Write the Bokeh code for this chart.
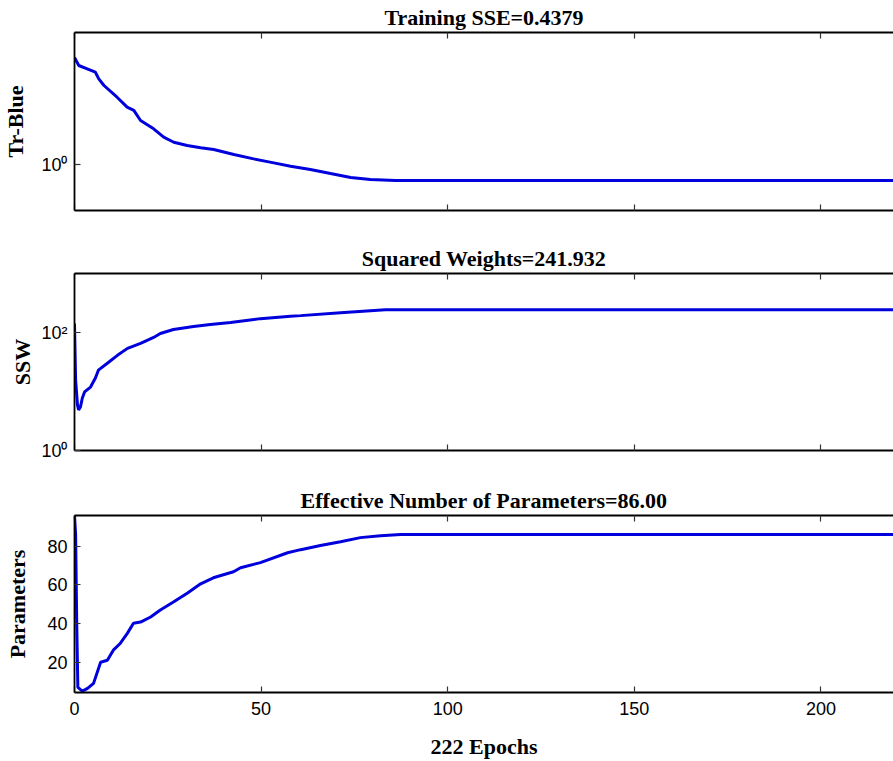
from bokeh.plotting import figure
from bokeh.layouts import column
from bokeh.models import Range1d, LinearAxis, FixedTicker
from bokeh.embed import file_html
from bokeh.resources import INLINE

# ---------------- data ----------------
tr_epochs = [0, 1.15, 3.4, 5.6, 6.5, 7.9, 11.4, 14.1, 15.9, 17.7, 21.2, 23.9, 26.6, 30.2,
             33.8, 37.3, 42.7, 48.0, 53.4, 57.9, 63.2, 68.6, 74.0, 79.3, 86.0, 222]
tr_values = [250.6, 166, 140, 117.4, 83.5, 59.1, 32.3, 19.3, 16.3, 9.70, 6.31, 4.10, 3.16, 2.67,
             2.37, 2.17, 1.68, 1.34, 1.09, 0.916, 0.773, 0.628, 0.512, 0.461, 0.4379, 0.4379]

ssw_epochs = [0, 0.3, 0.8, 1.1, 1.6, 2.1, 2.7, 4.3, 5.6, 6.4, 8.8, 11.5, 14.2, 17.7, 21.2,
              23.0, 26.5, 31.9, 36.4, 41.8, 49.8, 57.9, 60.6, 71.3, 79.3, 83.3, 222]
ssw_values = [141.6, 15.6, 5.93, 4.89, 5.48, 7.78, 9.82, 11.9, 16.9, 23.0, 30.1, 41.0, 53.8, 65.3, 82.4,
              96.2, 112.3, 126.1, 136.3, 147.2, 171.8, 189.2, 193.2, 216.8, 234.3, 241.932, 241.932]

par_epochs = [0, 0.3, 0.6, 0.9, 2.1, 3.5, 5.1, 7.0, 8.8, 10.4, 12.3, 14.2, 15.8, 17.7, 20.4,
              23.0, 26.5, 30.3, 33.8, 37.2, 42.6, 44.5, 49.8, 57.1, 60.6, 65.9, 71.3, 76.6,
              82.0, 87.4, 222]
par_values = [95.8, 86.0, 40.0, 7.2, 5.3, 6.7, 9.3, 20.2, 21.2, 26.4, 30.0, 35.2, 40.3, 40.9, 43.5,
              47.1, 51.2, 55.9, 60.6, 63.7, 66.8, 68.9, 71.5, 76.6, 78.2, 80.3, 82.3, 84.4,
              85.4, 86.0, 86.0]

x_ticks = [0, 50, 100, 150, 200]
tr_ticks = [1]
ssw_ticks = [1, 100]
par_ticks = [20, 40, 60, 80]

titles = ["Training SSE=0.4379", "Squared Weights=241.932", "Effective Number of Parameters=86.00"]
ylabels = ["Tr-Blue", "SSW", "Parameters"]
xlabel = "222 Epochs"

LINE = "#0000dd"
SERIF = "Liberation Serif"
SANS = "Liberation Sans"


def style_axis(ax, show_labels=True):
    ax.axis_line_color = "black"
    ax.axis_line_width = 1.8
    ax.major_tick_in = 6
    ax.major_tick_out = 0
    ax.major_tick_line_color = "#333333"
    ax.major_tick_line_width = 1.2
    ax.minor_tick_line_color = None
    ax.major_label_text_font = SANS
    ax.major_label_text_color = "black"
    if show_labels:
        ax.major_label_text_font_size = "18px"
        ax.major_label_standoff = 7
    else:
        ax.major_label_overrides = {t: "" for t in x_ticks}
        ax.major_label_text_font_size = "1px"
        ax.major_label_standoff = 0


def make_fig(height, top, bottom, y_type, y_range, title, show_x_labels):
    p = figure(width=893, height=height, output_backend="svg", toolbar_location=None,
               x_range=Range1d(0, 219.45), y_range=y_range, y_axis_type=y_type,
               min_border_left=74, min_border_right=0, min_border_top=top,
               min_border_bottom=bottom, background_fill_color="white",
               border_fill_color="white", outline_line_color=None)
    p.title.text = title
    p.title.text_font = SERIF
    p.title.text_font_style = "bold"
    p.title.text_font_size = "22px"
    p.title.text_color = "black"
    p.title.align = "center"
    p.title.standoff = 5
    p.xgrid.visible = False
    p.ygrid.visible = False
    bottom_ax = p.below[0]
    bottom_ax.ticker = FixedTicker(ticks=x_ticks)
    style_axis(bottom_ax, show_x_labels)
    top_ax = LinearAxis(ticker=FixedTicker(ticks=x_ticks))
    style_axis(top_ax, False)
    p.add_layout(top_ax, "above")
    style_axis(p.yaxis[0], True)
    p.yaxis.axis_label_text_font = SERIF
    p.yaxis.axis_label_text_font_style = "bold"
    p.yaxis.axis_label_text_font_size = "22px"
    p.yaxis.axis_label_text_color = "black"
    return p


# ---- panel 1 ----
p1 = make_fig(241, 32, 31, "log", Range1d(10 ** -1.031, 10 ** 2.96), titles[0], False)
p1.yaxis.ticker = FixedTicker(ticks=tr_ticks)
p1.yaxis.major_label_overrides = {1: "10\u2070"}
p1.yaxis.axis_label = ylabels[0]
p1.yaxis.axis_label_standoff = 10
p1.line(tr_epochs, tr_values, line_color=LINE, line_width=3)

# ---- panel 2 ----
p2 = make_fig(241, 32, 32, "log", Range1d(1, 1000), titles[1], False)
p2.yaxis.ticker = FixedTicker(ticks=ssw_ticks)
p2.yaxis.major_label_overrides = {1: "10\u2070", 100: "10\u00b2"}
p2.yaxis.axis_label = ylabels[1]
p2.yaxis.axis_label_standoff = 3
p2.line(ssw_epochs, ssw_values, line_color=LINE, line_width=3)

# ---- panel 3 ----
p3 = make_fig(279, 33, 69, "linear", Range1d(4.6, 95.8), titles[2], True)
p3.yaxis.ticker = FixedTicker(ticks=par_ticks)
p3.yaxis.axis_label = ylabels[2]
p3.yaxis.axis_label_standoff = 14
xb = p3.below[0]
xb.major_label_standoff = 9
xb.axis_label = xlabel
xb.axis_label_text_font = SERIF
xb.axis_label_text_font_style = "bold"
xb.axis_label_text_font_size = "22px"
xb.axis_label_text_color = "black"
xb.axis_label_standoff = 16
p3.line(par_epochs, par_values, line_color=LINE, line_width=3)

layout = column(p1, p2, p3, spacing=0)

open("out.html", "w").write(file_html(layout, INLINE))
